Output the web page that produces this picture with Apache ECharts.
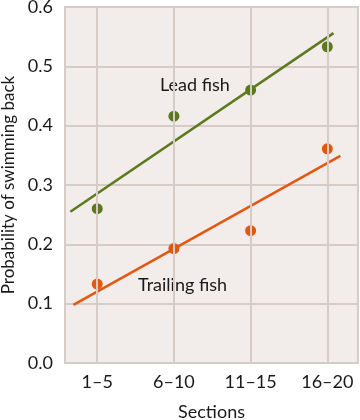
<!DOCTYPE html>
<html><head><meta charset="utf-8">
<script src="https://cdn.jsdelivr.net/npm/echarts@6/dist/echarts.min.js"></script>
<style>html,body{margin:0;padding:0;background:#fff}#c{width:360px;height:420px}</style>
</head><body><div id="c"></div>
<script>
const categories = ['1–5', '6–10', '11–15', '16–20'];
const categoryPos = [1, 2, 3, 4];
const leadValues = [0.26, 0.416, 0.46, 0.533];
const trailValues = [0.133, 0.193, 0.223, 0.361];
const leadFitX = [0.65, 4.08];
const leadFitY = [0.255, 0.556];
const trailFitX = [0.69, 4.17];
const trailFitY = [0.098, 0.349];

const FONT = 'Lato';
const GRID = '#d6ccc7';
const GREEN = '#5b7a1b';
const ORANGE = '#e3570f';

const chart = echarts.init(document.getElementById('c'), null, {renderer: 'canvas'});
chart.setOption({
  animation: false,
  textStyle: {fontFamily: FONT},
  grid: {left: 65, top: 7, right: 2, bottom: 57, outerBoundsMode: 'none', containLabel: false,
    show: true, backgroundColor: '#f2ecea', borderColor: GRID, borderWidth: 2},
  xAxis: {
    type: 'value', min: 0.58, max: 4.4,
    axisLine: {show: false}, axisTick: {show: false}, splitLine: {show: false},
    axisLabel: {customValues: categoryPos, formatter: v => categories[categoryPos.indexOf(v)] || '', color: '#1a1a1a', fontSize: 18, margin: 10, fontFamily: FONT},
    name: 'Sections', nameLocation: 'middle', nameGap: 40,
    nameTextStyle: {fontSize: 18, color: '#1a1a1a', fontFamily: FONT}
  },
  yAxis: {
    type: 'value', min: 0, max: 0.6, interval: 0.1,
    axisLine: {show: false}, axisTick: {show: false},
    splitLine: {lineStyle: {color: GRID, width: 2}},
    axisLabel: {formatter: v => v.toFixed(1), color: '#1a1a1a', fontSize: 18, margin: 12, fontFamily: FONT},
    name: 'Probability of swimming back', nameLocation: 'middle', nameGap: 48,
    nameTextStyle: {fontSize: 17, color: '#1a1a1a', fontFamily: FONT}
  },
  series: [
    {
      type: 'line', data: [], z: 1, silent: true,
      markLine: {silent: true, symbol: 'none', label: {show: false},
        lineStyle: {color: GRID, width: 2, type: 'solid'},
        data: categoryPos.map(v => ({xAxis: v}))}
    },
    {type: 'line', z: 3, symbol: 'none', lineStyle: {color: GREEN, width: 2.5},
      data: leadFitX.map((x, i) => [x, leadFitY[i]])},
    {type: 'line', z: 3, symbol: 'none', lineStyle: {color: ORANGE, width: 2.5},
      data: trailFitX.map((x, i) => [x, trailFitY[i]])},
    {type: 'scatter', z: 4, symbolSize: 11, itemStyle: {color: GREEN, opacity: 1},
      data: categoryPos.map((x, i) => [x, leadValues[i]])},
    {type: 'scatter', z: 4, symbolSize: 11, itemStyle: {color: ORANGE, opacity: 1},
      data: categoryPos.map((x, i) => [x, trailValues[i]])}
  ],
  graphic: [
    {type: 'text', left: 160, top: 76, style: {text: 'Lead fish', fontSize: 18, fontFamily: FONT, fill: '#1a1a1a'}},
    {type: 'text', left: 138, top: 276, style: {text: 'Trailing fish', fontSize: 18, fontFamily: FONT, fill: '#1a1a1a'}}
  ]
});
</script></body></html>
